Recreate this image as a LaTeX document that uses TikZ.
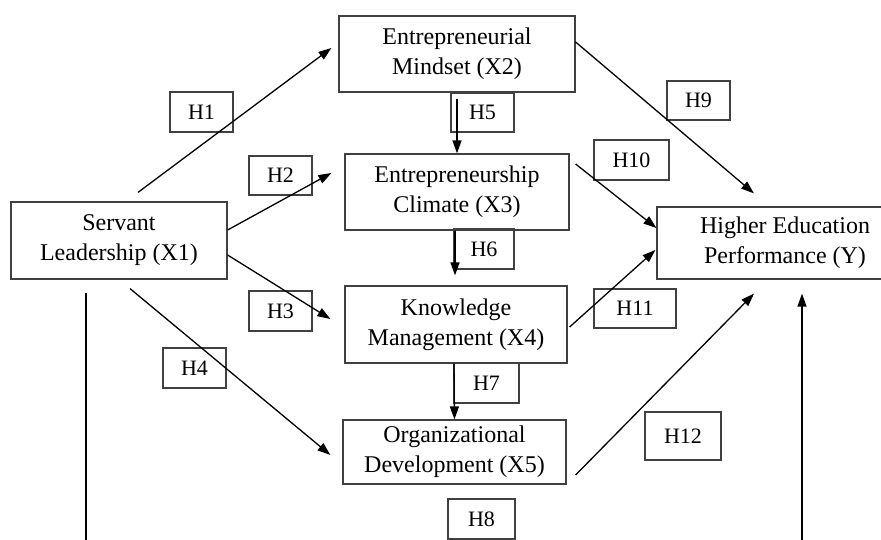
\documentclass[tikz,border=0pt]{standalone}
\usepackage{fontspec}
\setmainfont{Liberation Serif}
\usetikzlibrary{arrows.meta}
\begin{document}
\begin{tikzpicture}[x=1pt,y=-1pt,
  var/.style={rectangle, draw=black!75, line width=1.2pt, align=center, inner sep=0pt, font=\fontsize{24}{30}\selectfont},
  hyp/.style={rectangle, draw=black!75, line width=1.2pt, inner sep=0pt, font=\fontsize{22}{26}\selectfont},
  arr/.style={line width=1.3pt, -{Triangle[length=13pt,width=9pt]}}]
\useasboundingbox (0,0) rectangle (881,540);
\clip (0,0) rectangle (881,540);
% variables
\node[var, minimum width=216pt, minimum height=77pt] at (119,240.5) (X1) {Servant\\Leadership (X1)};
\node[var, minimum width=236pt, minimum height=76pt] at (457,54) (X2) {Entrepreneurial\\Mindset (X2)};
\node[var, minimum width=224pt, minimum height=76pt] at (457,192) (X3) {Entrepreneurship\\Climate (X3)};
\node[var, minimum width=222pt, minimum height=77pt] at (456,324.5) (X4) {Knowledge\\Management (X4)};
\node[var, minimum width=223pt, minimum height=64pt] at (454.5,452) (X5) {Organizational\\Development (X5)};
\node[var, minimum width=256pt, minimum height=72pt] at (785,243) (Y) {Higher Education\\Performance (Y)};
% hypotheses
\node[hyp, minimum width=63pt, minimum height=40pt] at (201.5,112) (H1) {H1};
\node[hyp, minimum width=63pt, minimum height=39pt] at (280.5,175.5) (H2) {H2};
\node[hyp, minimum width=63pt, minimum height=40pt] at (280.5,311) (H3) {H3};
\node[hyp, minimum width=63pt, minimum height=40pt] at (194.5,368) (H4) {H4};
\node[hyp, minimum width=63pt, minimum height=39pt] at (482.5,112.5) (H5) {H5};
\node[hyp, minimum width=60pt, minimum height=40pt] at (484,249) (H6) {H6};
\node[hyp, minimum width=65pt, minimum height=40pt] at (486.5,383) (H7) {H7};
\node[hyp, minimum width=67pt, minimum height=40pt] at (481.5,519) (H8) {H8};
\node[hyp, minimum width=63pt, minimum height=39pt] at (698.5,100.5) (H9) {H9};
\node[hyp, minimum width=75pt, minimum height=40pt] at (631.5,160) (H10) {H10};
\node[hyp, minimum width=82pt, minimum height=39pt] at (635,308.5) (H11) {H11};
\node[hyp, minimum width=76pt, minimum height=48pt] at (683,436) (H12) {H12};
\coordinate (BL) at (86,545);
\coordinate (BR) at (802,545);
% paths
\draw[arr] ([shift={(19,-9)}]X1.north) -- ([shift={(-7,-6)}]X2.west);
\draw[arr] ([shift={(0,-10.5)}]X1.east) -- ([shift={(-13,-19)}]X3.west);
\draw[arr] ([shift={(0,14.5)}]X1.east) -- ([shift={(-14,-5.5)}]X4.west);
\draw[arr] ([shift={(11,9)}]X1.south) -- ([shift={(-12,3)}]X5.west);
\draw[arr] ([shift={(0,6)}]X2.south) -- (X3.north);
\draw[arr] ([shift={(-2,0)}]X3.south) -- ([shift={(-1,-10)}]X4.north);
\draw[arr] ([shift={(-2,0)}]X4.south) -- (X5.north);
\draw[arr] ([shift={(0,-12)}]X2.east) -- ([shift={(-31,-13)}]Y.north);
\draw[arr] ([shift={(6,-28)}]X3.east) -- ([shift={(0,-15)}]Y.west);
\draw[arr] ([shift={(2,2.5)}]X4.east) -- ([shift={(-1,7)}]Y.west);
\draw[arr] ([shift={(9,23)}]X5.east) -- ([shift={(-31,14)}]Y.south);
\draw[line width=1.3pt] ([shift={(-33,13)}]X1.south) -- (BL);
\draw[arr] (BR) -- ([shift={(17,14)}]Y.south);
\end{tikzpicture}
\end{document}
